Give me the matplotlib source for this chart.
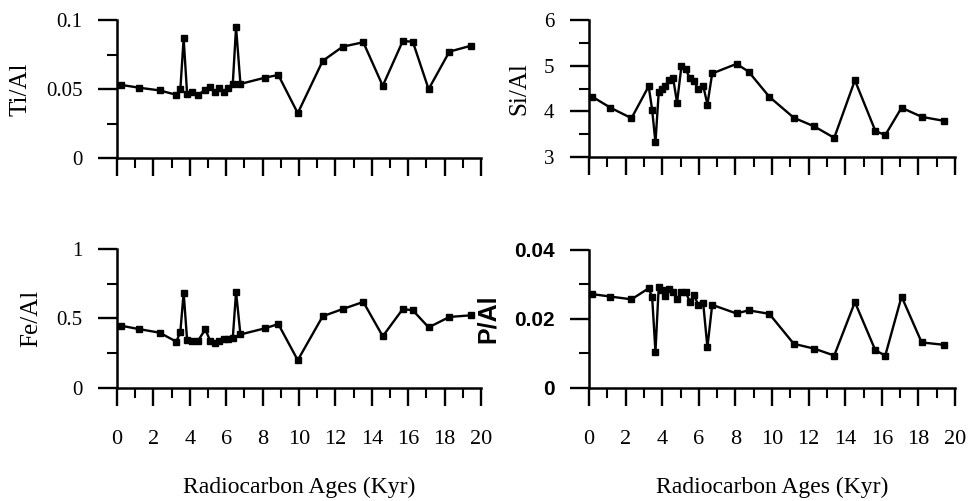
import matplotlib
matplotlib.use("Agg")
import matplotlib.pyplot as plt

# sample ages (kyr) for the Ti/Fe core and the Si/P core
age_left = [0.22, 1.19, 2.34, 3.26, 3.48, 3.66, 3.85, 4.12, 4.45, 4.85,
            5.13, 5.37, 5.62, 5.86, 6.08, 6.36, 6.54, 6.78, 8.15, 8.86,
            9.93, 11.3, 12.4, 13.53, 14.6, 15.7, 16.25, 17.12, 18.26, 19.45]
ti_al = [0.053, 0.051, 0.049, 0.0458, 0.050, 0.0867, 0.0465, 0.0475, 0.0458, 0.0494,
         0.0513, 0.0482, 0.0504, 0.0482, 0.0506, 0.054, 0.0947, 0.0537, 0.0583, 0.0602,
         0.0325, 0.0704, 0.0807, 0.0839, 0.0523, 0.0848, 0.0843, 0.0499, 0.0771, 0.0814]
fe_al = [0.448, 0.424, 0.398, 0.333, 0.405, 0.686, 0.345, 0.34, 0.34, 0.422,
         0.335, 0.325, 0.34, 0.35, 0.355, 0.36, 0.69, 0.385, 0.43, 0.46,
         0.20, 0.516, 0.568, 0.619, 0.372, 0.568, 0.559, 0.436, 0.511, 0.523]

age_right = [0.18, 1.17, 2.32, 3.26, 3.45, 3.63, 3.81, 4.0, 4.17, 4.36, 4.59,
             4.81, 5.05, 5.29, 5.51, 5.74, 5.96, 6.24, 6.47, 6.73, 8.06, 8.72,
             9.85, 11.19, 12.31, 13.4, 14.53, 15.65, 16.19, 17.08, 18.18, 19.42]
si_al = [4.32, 4.08, 3.85, 4.55, 4.03, 3.32, 4.43, 4.50, 4.55, 4.69, 4.74,
         4.19, 4.99, 4.92, 4.72, 4.66, 4.49, 4.56, 4.15, 4.83, 5.04, 4.87,
         4.32, 3.86, 3.67, 3.42, 4.68, 3.57, 3.48, 4.08, 3.88, 3.79]
p_al = [0.0272, 0.0265, 0.0257, 0.0289, 0.0263, 0.0105, 0.0294, 0.0284, 0.0268, 0.0286, 0.0279,
        0.0258, 0.0279, 0.0277, 0.025, 0.027, 0.0241, 0.0245, 0.0118, 0.0241, 0.0216, 0.0225,
        0.0215, 0.0128, 0.0114, 0.0094, 0.0249, 0.0109, 0.0094, 0.0265, 0.0132, 0.0125]

age_ticks = [0, 2, 4, 6, 8, 10, 12, 14, 16, 18, 20]
age_labels = ["0", "2", "4", "6", "8", "10", "12", "14", "16", "18", "20"]

serif = "Liberation Serif"
sans = "Liberation Sans"

panels = [
    # x, y, ylabel, ylim, major ticks, tick labels, minor ticks, rect, font, bottom row
    (age_left, ti_al, "Ti/Al", (0, 0.1), [0, 0.05, 0.1], ["0", "0.05", "0.1"],
     [0.025, 0.075], [0.1204, 0.6846, 0.3745, 0.2754], serif, False),
    (age_right, si_al, "Si/Al", (3, 6), [3, 4, 5, 6], ["3", "4", "5", "6"],
     [3.5, 4.5, 5.5], [0.606, 0.6866, 0.3765, 0.2734], serif, False),
    (age_left, fe_al, "Fe/Al", (0, 1), [0, 0.5, 1], ["0", "0.5", "1"],
     [0.25, 0.75], [0.1204, 0.2256, 0.3745, 0.2774], serif, True),
    (age_right, p_al, "P/Al", (0, 0.04), [0, 0.02, 0.04], ["0", "0.02", "0.04"],
     [0.01, 0.03], [0.606, 0.2256, 0.3765, 0.2754], sans, True),
]

fig = plt.figure(figsize=(9.72, 5.01), dpi=100)

for x, y, ylab, ylim, yt, ytl, ymin, rect, fam, bottom in panels:
    ax = fig.add_axes(rect)
    ax.plot(x, y, color="black", lw=1.7, marker="s", ms=4.2, clip_on=False)
    ax.set_xlim(0, 20)
    ax.set_ylim(*ylim)
    for side in ("top", "right"):
        ax.spines[side].set_visible(False)
    for side in ("left", "bottom"):
        ax.spines[side].set_linewidth(1.8)

    ax.set_xticks(age_ticks)
    ax.set_xticks(range(1, 20, 2), minor=True)
    ax.set_yticks(yt)
    ax.set_yticks(ymin, minor=True)
    ax.set_yticklabels(ytl, fontsize=15, family=fam,
                       fontweight="semibold" if fam == sans else "normal")
    if bottom:
        ax.set_xticklabels(age_labels, fontsize=16, family=serif)
        ax.set_xlabel("Radiocarbon Ages (Kyr)", fontsize=17, family=serif, labelpad=20)
    else:
        ax.set_xticklabels([])
    ax.tick_params(axis="x", which="major", direction="out", length=13, width=1.7, pad=17)
    ax.tick_params(axis="x", which="minor", direction="out", length=7, width=1.5)
    ax.tick_params(axis="y", which="major", direction="out", length=14, width=1.7, pad=11)
    ax.tick_params(axis="y", which="minor", direction="out", length=7, width=1.5)
    ax.set_ylabel(ylab, fontsize=18, family=fam, labelpad=10,
                  fontweight="semibold" if fam == sans else "normal")

fig.savefig("out.png", dpi=100)
